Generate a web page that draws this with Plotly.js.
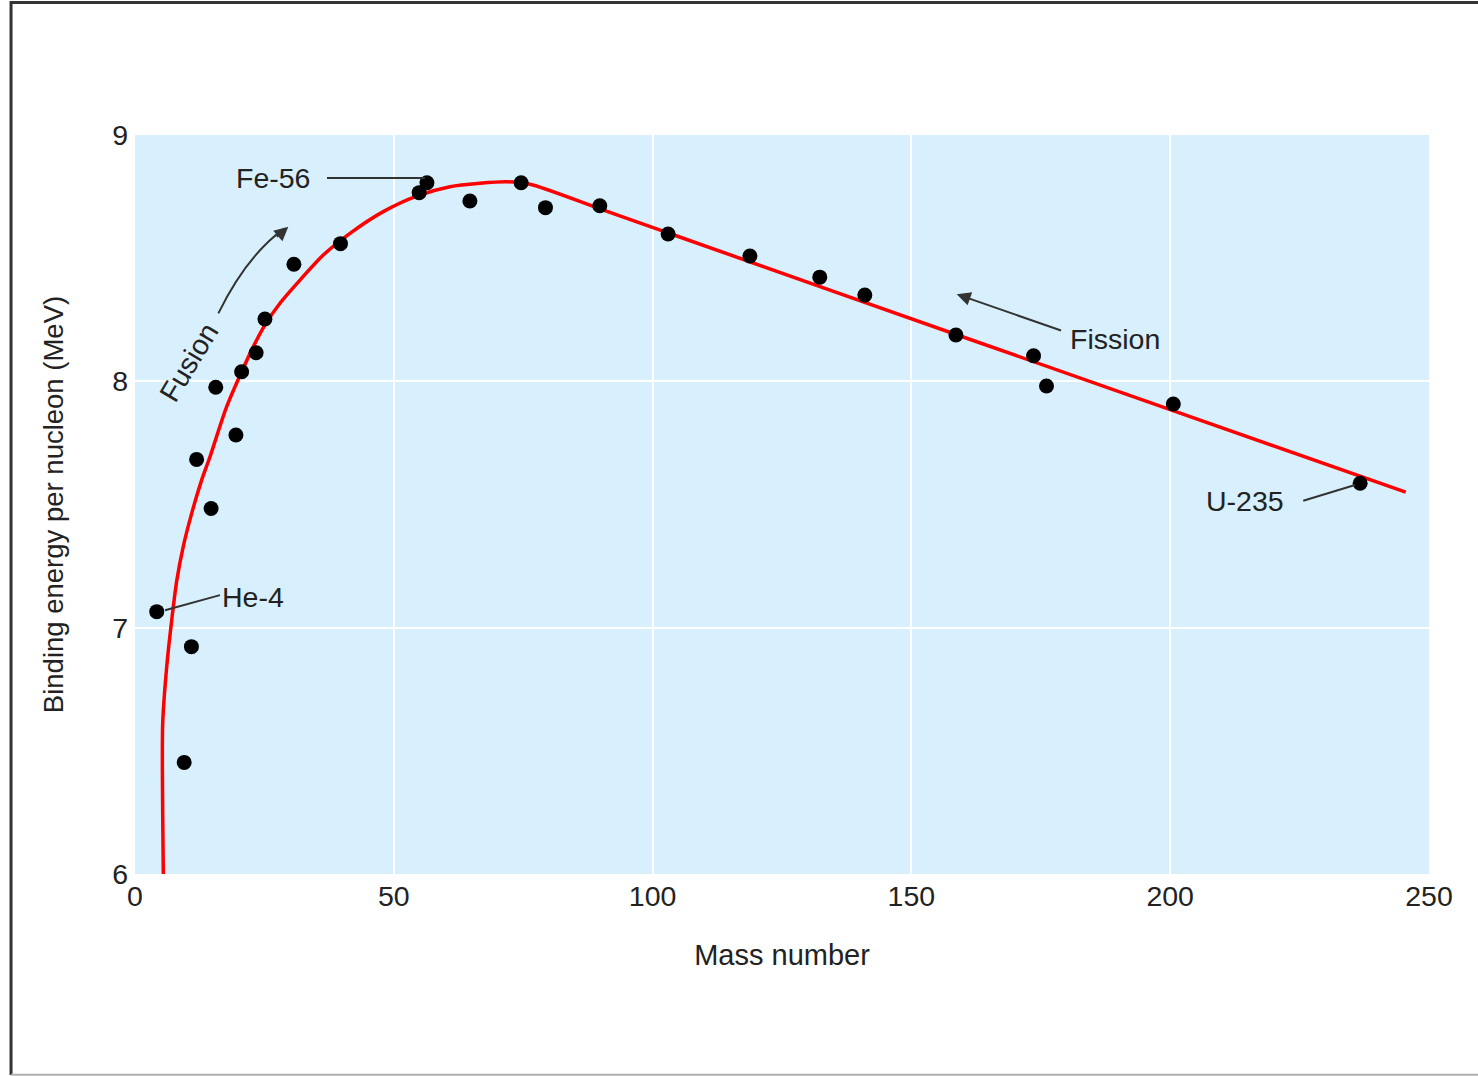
<!DOCTYPE html>
<html>
<head>
<meta charset="utf-8">
<script src="https://cdn.plot.ly/plotly-3.0.1.min.js"></script>
<style>
  html, body { margin: 0; padding: 0; background: #ffffff; }
  #chart { width: 1478px; height: 1076px; }
</style>
</head>
<body>
<div id="chart"></div>
<script>
// Measured nuclides: mass number and binding energy per nucleon (MeV)
const massNumber = [4.2, 9.5, 10.9, 11.9, 14.7, 15.6, 19.5, 20.6, 23.4, 25.1, 30.7, 39.7,
  54.9, 56.4, 64.7, 74.6, 79.3, 89.8, 103.0, 118.8, 132.3, 141.0, 158.6, 173.6, 176.1, 200.6, 236.7];
const bindingEnergy = [7.065, 6.453, 6.923, 7.683, 7.484, 7.976, 7.782, 8.039, 8.116, 8.253, 8.475, 8.559,
  8.766, 8.806, 8.732, 8.806, 8.705, 8.713, 8.598, 8.509, 8.423, 8.35, 8.188, 8.104, 7.981, 7.908, 7.586];

// Smooth trend curve
const curveA = [5.47, 5.35, 5.35, 6.12, 7.09, 8.06, 9.33, 10.95, 12.89, 14.49, 17.71, 20.61, 22.86,
  25.12, 28.01, 31.88, 36.38, 41.54, 47.97, 54.42, 60.86, 66.65, 71.81, 76.31, 89.84, 104.0, 160.0, 245.5];
const curveE = [6.0, 6.25, 6.61, 6.84, 7.03, 7.19, 7.33, 7.464, 7.60, 7.694, 7.897, 8.039, 8.141,
  8.229, 8.317, 8.411, 8.513, 8.601, 8.689, 8.752, 8.79, 8.804, 8.81, 8.80, 8.70, 8.595, 8.18, 7.55];

const xTicks = [0, 50, 100, 150, 200, 250];
const yTicks = [6, 7, 8, 9];

const FONT = "Liberation Sans, Arial, Helvetica, sans-serif";
const TXT = "#222222";
const LINE = "#333333";
const FS = 28.5;

const traces = [
  {
    x: curveA, y: curveE, type: "scatter", mode: "lines",
    line: { color: "#ff0000", width: 3.5, shape: "spline", smoothing: 0.8 },
    hoverinfo: "skip", showlegend: false
  },
  {
    x: massNumber, y: bindingEnergy, type: "scatter", mode: "markers",
    marker: { color: "#000000", size: 15 },
    showlegend: false
  }
];

const annotations = [
  { x: 26.66, y: 8.825, xref: "x", yref: "y", text: "Fe-56", showarrow: false,
    font: { family: FONT, size: FS, color: TXT } },
  { x: 22.8, y: 7.124, xref: "x", yref: "y", text: "He-4", showarrow: false,
    font: { family: FONT, size: FS, color: TXT } },
  { x: 214.45, y: 7.514, xref: "x", yref: "y", text: "U-235", showarrow: false,
    font: { family: FONT, size: FS, color: TXT } },
  { x: 189.3, y: 8.172, xref: "x", yref: "y", text: "Fission", showarrow: false,
    font: { family: FONT, size: FS, color: TXT } },
  { x: 10.4, y: 8.078, xref: "x", yref: "y", text: "Fusion", showarrow: false, textangle: -59,
    font: { family: FONT, size: FS, color: TXT } },
  // Fission arrow
  { x: 158.75, y: 8.354, xref: "x", yref: "y", ax: 179.2, ay: 8.204, axref: "x", ayref: "y",
    text: "", showarrow: true, arrowhead: 2, arrowsize: 1.4, arrowwidth: 2, arrowcolor: LINE },
  // Fusion arrow head
  { x: 29.62, y: 8.628, xref: "x", yref: "y", ax: -13, ay: 11.5,
    text: "", showarrow: true, arrowhead: 2, arrowsize: 1.4, arrowwidth: 2, arrowcolor: LINE }
];

const shapes = [
  // leader lines
  { type: "line", xref: "x", yref: "y", x0: 37.09, y0: 8.825, x1: 56.03, y1: 8.825,
    line: { color: LINE, width: 2 } },
  { type: "line", xref: "x", yref: "y", x0: 16.42, y0: 7.132, x1: 5.8, y1: 7.071,
    line: { color: LINE, width: 2 } },
  { type: "line", xref: "x", yref: "y", x0: 225.7, y0: 7.515, x1: 235.7, y1: 7.579,
    line: { color: LINE, width: 2 } },
  // curved fusion arrow shaft
  { type: "path", xref: "x", yref: "y", path: "M 16.1,8.276 Q 21.58,8.51 28.8,8.62",
    line: { color: LINE, width: 2 } },
  // page frame
  { type: "path", xref: "paper", yref: "paper",
    path: "M -0.0958,-0.272 L -0.0958,1.1793 L 1.04,1.1793",
    line: { color: "#333333", width: 3 } },
  { type: "line", xref: "paper", yref: "paper", x0: -0.0958, y0: -0.2718, x1: 1.04, y1: -0.2718,
    line: { color: "#b0b0b0", width: 2 } }
];

const layout = {
  width: 1478, height: 1076,
  margin: { l: 135, r: 49, t: 135, b: 202 },
  paper_bgcolor: "#ffffff",
  plot_bgcolor: "#d8f0fd",
  font: { family: FONT, size: FS, color: TXT },
  showlegend: false,
  xaxis: {
    range: [0, 250], tickvals: xTicks, ticktext: xTicks.map(String),
    showgrid: true, gridcolor: "#ffffff", gridwidth: 2, zeroline: false,
    showline: false, ticks: "", ticklabelstandoff: 2,
    tickfont: { family: FONT, size: FS, color: TXT },
    title: { text: "Mass number", standoff: 34, font: { family: FONT, size: 29, color: TXT } }
  },
  yaxis: {
    range: [6, 9], tickvals: yTicks, ticktext: yTicks.map(String),
    showgrid: true, gridcolor: "#ffffff", gridwidth: 2, zeroline: false,
    showline: false, ticks: "", ticklabelstandoff: 6,
    tickfont: { family: FONT, size: FS, color: TXT },
    title: { text: "Binding energy per nucleon (MeV)", standoff: 40,
             font: { family: FONT, size: 27.5, color: TXT } }
  },
  annotations: annotations,
  shapes: shapes
};

Plotly.newPlot("chart", traces, layout, { displayModeBar: false, staticPlot: true });
</script>
</body>
</html>
